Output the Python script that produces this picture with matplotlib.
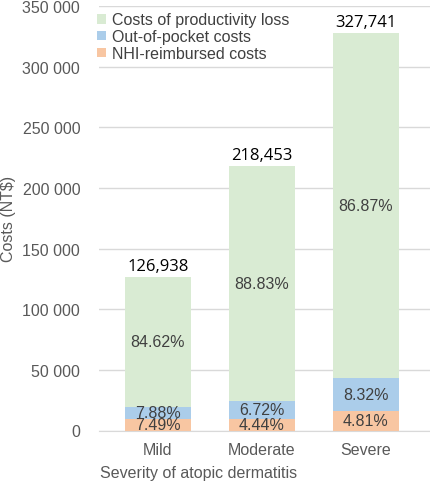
import numpy as np
import matplotlib.pyplot as plt
from matplotlib.ticker import FuncFormatter

# ========================
# Data
# ========================
severity = ["Mild", "Moderate", "Severe"]
totals = [126938, 218453, 327741]                 # NT$ per patient
share_nhi = [7.49, 4.44, 4.81]                    # % NHI-reimbursed
share_oop = [7.88, 6.72, 8.32]                    # % out-of-pocket
share_prod = [84.62, 88.83, 86.87]                # % productivity loss

series_names = ["Costs of productivity loss", "Out-of-pocket costs", "NHI-reimbursed costs"]
colors = {"prod": "#d9ebd3", "oop": "#abcdea", "nhi": "#f8c6a2"}

# segment values in NT$
tot = np.array(totals, dtype=float)
nhi = tot * np.array(share_nhi) / 100
oop = tot * np.array(share_oop) / 100
prod = tot - nhi - oop

plt.rcParams['font.family'] = ['Liberation Sans', 'DejaVu Sans']

fig = plt.figure(figsize=(4.31, 4.85), dpi=100)
ax = fig.add_axes([99 / 431, 1 - 431.5 / 485, 332 / 431, 424.5 / 485])

x = np.arange(len(severity))
w = 0.63
b_nhi = ax.bar(x, nhi, w, color=colors["nhi"], zorder=2)
b_oop = ax.bar(x, oop, w, bottom=nhi, color=colors["oop"], zorder=2)
b_prod = ax.bar(x, prod, w, bottom=nhi + oop, color=colors["prod"], zorder=2)

# percentage labels in the middle of each segment
txt = "#404040"
fs = 11.5
for i in range(len(x)):
    ax.text(x[i], nhi[i] / 2, f"{share_nhi[i]:.2f}%", ha="center", va="center",
            fontsize=fs, color=txt, zorder=3)
    ax.text(x[i], nhi[i] + oop[i] / 2, f"{share_oop[i]:.2f}%", ha="center", va="center",
            fontsize=fs, color=txt, zorder=3)
    ax.text(x[i], nhi[i] + oop[i] + prod[i] / 2, f"{share_prod[i]:.2f}%", ha="center",
            va="center", fontsize=fs, color=txt, zorder=3)
    ax.text(x[i], tot[i] + 2500, f"{totals[i]:,}", ha="center", va="bottom",
            fontsize=12, color="black", family=["Open Sans", "DejaVu Sans"], zorder=3)

ax.set_ylim(0, 350000)
ax.set_xlim(-0.567, 2.625)
ax.set_yticks(np.arange(0, 350001, 50000))
ax.yaxis.set_major_formatter(FuncFormatter(lambda v, p: f"{int(v):,}".replace(",", " ")))
ax.set_xticks(x)
ax.set_xticklabels(severity)
ax.tick_params(axis="both", length=0, labelsize=fs, colors="#595959")
ax.tick_params(axis="y", pad=13.5)
ax.tick_params(axis="x", pad=8)
ax.grid(axis="y", color="#d9d9d9", linewidth=1, zorder=0)
for s in ["top", "right", "left"]:
    ax.spines[s].set_visible(False)
ax.spines["bottom"].set_color("#d9d9d9")
ax.spines["bottom"].set_zorder(1)

fig.text(9 / 431, 1 - 219 / 485, "Costs (NT$)", rotation=90, ha="center", va="center",
         fontsize=fs, color="#595959")
fig.text(199 / 431, 1 - 474 / 485, "Severity of atopic dermatitis", ha="center", va="center",
         fontsize=fs, color="#595959")

leg = ax.legend([b_prod, b_oop, b_nhi], series_names, loc="upper left",
                bbox_to_anchor=(-0.005, 0.985), frameon=False, fontsize=fs,
                handlelength=0.55, handleheight=0.55, handletextpad=0.35,
                labelspacing=0.12, borderaxespad=0, borderpad=0)
for t in leg.get_texts():
    t.set_color("#404040")

fig.savefig("out.png", dpi=100)
